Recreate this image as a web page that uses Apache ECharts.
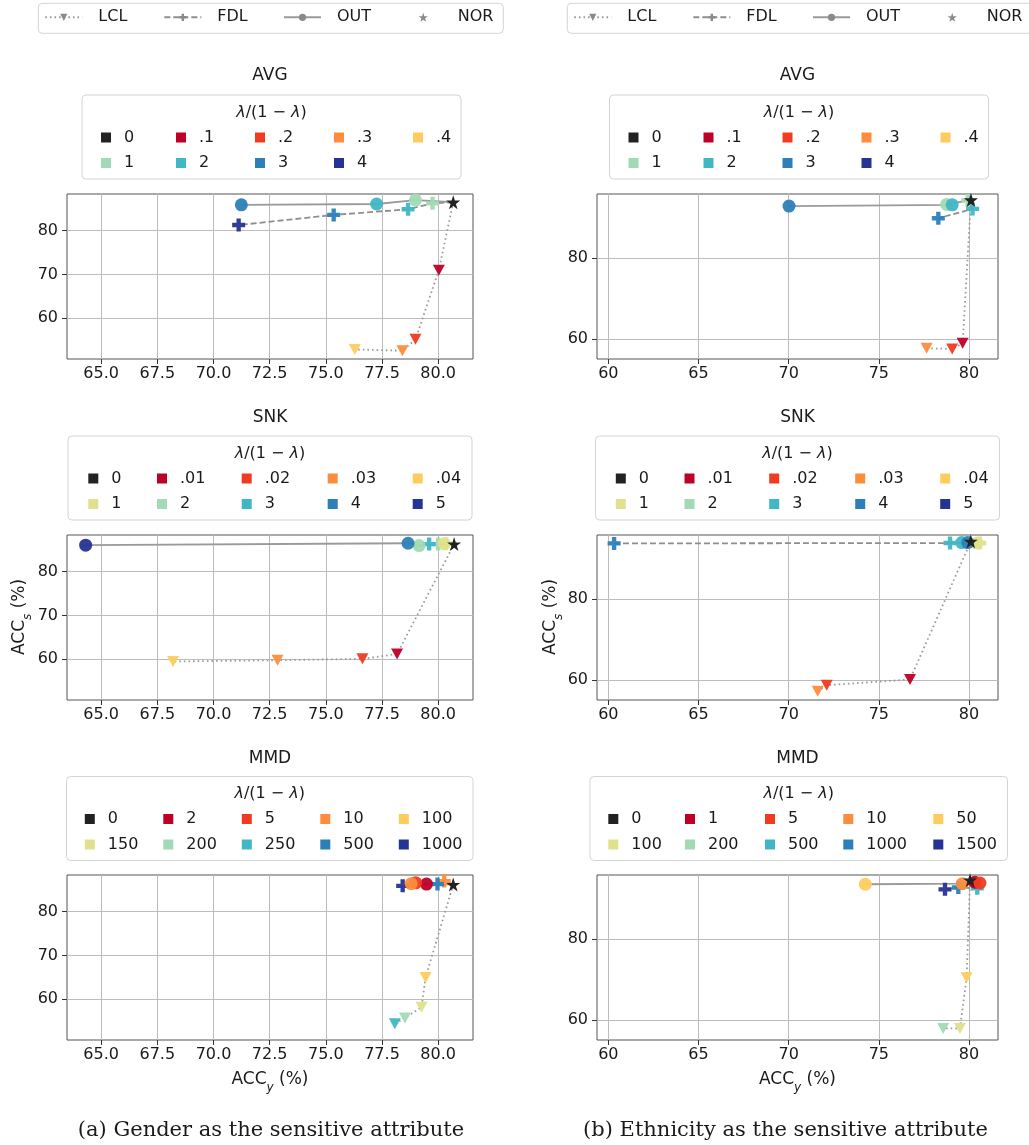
<!DOCTYPE html>
<html><head><meta charset="utf-8">
<script src="https://cdn.jsdelivr.net/npm/echarts@6/dist/echarts.min.js"></script>
<style>html,body{margin:0;padding:0;background:#fff}#c{width:1029px;height:1145px}</style>
</head><body><div id="c"></div>
<script>
// ===================== DATA =====================
const methodNames = ['LCL', 'FDL', 'OUT', 'NOR'];
const lamAVG  = ['0', '.1', '.2', '.3', '.4', '1', '2', '3', '4'];
const lamSNK  = ['0', '.01', '.02', '.03', '.04', '1', '2', '3', '4', '5'];
const lamMMDg = ['0', '2', '5', '10', '100', '150', '200', '250', '500', '1000'];
const lamMMDe = ['0', '1', '5', '10', '50', '100', '200', '500', '1000', '1500'];

const xTicksGender = [65, 67.5, 70, 72.5, 75, 77.5, 80];
const yTicksGender = [60, 70, 80];
const xTicksEth = [60, 65, 70, 75, 80];
const yTicksEth = [60, 80];

// each point: [lambda/(1-lambda), ACC_y, ACC_s]
// (a) Gender
const gAVG_NOR = [80.67, 86.5];
const gAVG_LCL = [['.1', 80.03, 71.0], ['.2', 78.99, 55.2], ['.3', 78.41, 52.6], ['.4', 76.29, 52.9]];
const gAVG_FDL = [['1', 79.75, 86.25], ['2', 78.66, 84.9], ['3', 75.35, 83.6], ['4', 71.12, 81.3]];
const gAVG_OUT = [['1', 78.99, 87.0], ['2', 77.26, 86.1], ['3', 71.24, 85.9]];

const gSNK_NOR = [80.71, 86.3];
const gSNK_LCL = [['.01', 78.17, 61.2], ['.02', 76.63, 60.1], ['.03', 72.85, 59.8], ['.04', 68.2, 59.5]];
const gSNK_FDL = [['1', 80.35, 86.4], ['2', 80.0, 86.3], ['3', 79.6, 86.3]];
const gSNK_OUT = [['1', 80.27, 86.4], ['2', 79.15, 85.96], ['4', 78.66, 86.5], ['5', 64.31, 86.05]];

const gMMD_NOR = [80.67, 86.2];
const gMMD_LCL = [['100', 79.44, 65.0], ['150', 79.26, 58.2], ['200', 78.52, 55.75], ['250', 78.07, 54.4]];
const gMMD_FDL = [['10', 80.27, 87.0], ['500', 79.97, 86.3], ['1000', 78.42, 85.9]];
const gMMD_OUT = [['2', 79.48, 86.3], ['5', 79.0, 86.6], ['10', 78.8, 86.4]];

// (b) Ethnicity
const eAVG_NOR = [80.11, 94.4];
const eAVG_LCL = [['.1', 79.65, 59.0], ['.2', 79.07, 57.6], ['.3', 77.65, 57.8]];
const eAVG_FDL = [['1', 79.93, 94.3], ['2', 80.2, 92.2], ['3', 78.3, 89.9]];
const eAVG_OUT = [['1', 78.76, 93.3], ['2', 79.07, 93.2], ['3', 70.02, 92.9]];

const eSNK_NOR = [80.1, 94.3];
const eSNK_LCL = [['.01', 76.73, 60.2], ['.02', 72.11, 58.8], ['.03', 71.61, 57.3]];
const eSNK_FDL = [['1', 80.6, 93.9], ['3', 78.95, 93.9], ['4', 60.32, 93.8]];
const eSNK_OUT = [['1', 80.45, 93.9], ['3', 79.6, 94.0], ['4', 79.93, 94.0]];

const eMMD_NOR = [80.06, 94.6];
const eMMD_LCL = [['50', 79.87, 70.5], ['100', 79.5, 58.0], ['200', 78.57, 58.0]];
const eMMD_FDL = [['500', 80.46, 92.6], ['1000', 79.41, 92.8], ['1500', 78.67, 92.35]];
const eMMD_OUT = [['1', 80.33, 94.1], ['5', 80.61, 93.9], ['10', 79.63, 93.75], ['50', 74.25, 93.6]];

// ===================== STYLE / LAYOUT =====================
const PAL = ['#222222', '#bd0026', '#f03b20', '#fd8d3c', '#fecc5c', '#dfe18c', '#a1dab4', '#41b6c4', '#2c7fb8', '#253494'];
const FONT = 'DejaVu Sans';
const TXT = '#1a1a1a';
const STAR = 'path://M50,0L61.2,34.5L97.6,34.5L68.2,55.9L79.4,90.5L50,69.1L20.6,90.5L31.8,55.9L2.4,34.5L38.8,34.5Z';
const PLUS = 'path://M1,0H2V1H3V2H2V3H1V2H0V1H1Z';

const panels = [
  {key: 'gA', title: 'AVG', grid: {left: 67, top: 194, width: 406, height: 165}, xr: [63.48, 81.55], yr: [50.71, 88.38],
   xt: xTicksGender, yt: yTicksGender, dec: 1, lam: lamAVG, cmap: [0, 1, 2, 3, 4, 6, 7, 8, 9],
   nor: gAVG_NOR, lcl: gAVG_LCL, fdl: gAVG_FDL, out: gAVG_OUT,
   leg: {sq: [106, 181, 260, 339, 418], bx: [82, 461], by: 95}, ty: 76},
  {key: 'eA', title: 'AVG', grid: {left: 597, top: 194, width: 401, height: 165}, xr: [59.37, 81.61], yr: [55.14, 95.88],
   xt: xTicksEth, yt: yTicksEth, dec: 0, lam: lamAVG, cmap: [0, 1, 2, 3, 4, 6, 7, 8, 9],
   nor: eAVG_NOR, lcl: eAVG_LCL, fdl: eAVG_FDL, out: eAVG_OUT,
   leg: {sq: [633.5, 708.5, 787.5, 866.5, 945.5], bx: [609.5, 988.5], by: 95}, ty: 76},
  {key: 'gS', title: 'SNK', grid: {left: 67, top: 535, width: 406, height: 165}, xr: [63.48, 81.55], yr: [50.71, 88.38],
   xt: xTicksGender, yt: yTicksGender, dec: 1, lam: lamSNK, cmap: [0, 1, 2, 3, 4, 5, 6, 7, 8, 9],
   nor: gSNK_NOR, lcl: gSNK_LCL, fdl: gSNK_FDL, out: gSNK_OUT,
   leg: {sq: [93.3, 162, 246.7, 332.7, 417.7], bx: [68, 472], by: 436}, ty: 417.3},
  {key: 'eS', title: 'SNK', grid: {left: 597, top: 535, width: 401, height: 165}, xr: [59.37, 81.61], yr: [55.14, 95.88],
   xt: xTicksEth, yt: yTicksEth, dec: 0, lam: lamSNK, cmap: [0, 1, 2, 3, 4, 5, 6, 7, 8, 9],
   nor: eSNK_NOR, lcl: eSNK_LCL, fdl: eSNK_FDL, out: eSNK_OUT,
   leg: {sq: [620.8, 689.5, 774.2, 860.2, 945.2], bx: [595.5, 999.5], by: 436}, ty: 417.3},
  {key: 'gM', title: 'MMD', grid: {left: 67, top: 875, width: 406, height: 165}, xr: [63.48, 81.55], yr: [50.71, 88.38],
   xt: xTicksGender, yt: yTicksGender, dec: 1, lam: lamMMDg, cmap: [0, 1, 2, 3, 4, 5, 6, 7, 8, 9],
   nor: gMMD_NOR, lcl: gMMD_LCL, fdl: gMMD_FDL, out: gMMD_OUT,
   leg: {sq: [89.8, 168.3, 246.8, 325.3, 403.8], bx: [66.5, 473], by: 776.5}, ty: 758.3},
  {key: 'eM', title: 'MMD', grid: {left: 597, top: 875, width: 401, height: 165}, xr: [59.37, 81.61], yr: [55.14, 95.88],
   xt: xTicksEth, yt: yTicksEth, dec: 0, lam: lamMMDe, cmap: [0, 1, 2, 3, 4, 5, 6, 7, 8, 9],
   nor: eMMD_NOR, lcl: eMMD_LCL, fdl: eMMD_FDL, out: eMMD_OUT,
   leg: {sq: [613.3, 690, 770, 848.3, 938.3], bx: [590, 1007.5], by: 776.5}, ty: 758.3}
];

const methodStyle = {
  LCL: {symbol: 'triangle', symbolRotate: 180, symbolSize: [12, 11], lineStyle: {color: '#9a9a9a', width: 1.8, type: [1.6, 3]}},
  FDL: {symbol: PLUS, symbolRotate: 0, symbolSize: 13, lineStyle: {color: '#8e8e8e', width: 1.8, type: [6, 3]}},
  OUT: {symbol: 'circle', symbolRotate: 0, symbolSize: 13, lineStyle: {color: '#9a9a9a', width: 1.8, type: 'solid'}}
};

// ===================== BUILD =====================
const grids = [], xAxes = [], yAxes = [], series = [], legends = [], graphics = [];

function colorOf(P, lab) { return PAL[P.cmap[P.lam.indexOf(lab)]]; }

panels.forEach((P, i) => {
  grids.push(Object.assign({show: true, borderColor: '#555', borderWidth: 1, backgroundColor: 'transparent'}, P.grid));
  const tickCommon = {show: true, inside: false, length: 5, lineStyle: {color: '#333', width: 1}};
  xAxes.push({
    type: 'value', gridIndex: i, min: P.xr[0], max: P.xr[1],
    axisLine: {show: false, onZero: false},
    axisTick: Object.assign({customValues: P.xt}, tickCommon),
    splitLine: {show: true, lineStyle: {color: '#bcbcbc', width: 1}},
    axisLabel: {customValues: P.xt, fontSize: 16, fontFamily: FONT, color: TXT, margin: 7,
      formatter: v => Number(v).toFixed(P.dec)}
  });
  yAxes.push({
    type: 'value', gridIndex: i, min: P.yr[0], max: P.yr[1],
    axisLine: {show: false, onZero: false},
    axisTick: Object.assign({customValues: P.yt}, tickCommon),
    splitLine: {show: true, lineStyle: {color: '#bcbcbc', width: 1}},
    axisLabel: {customValues: P.yt, fontSize: 16, fontFamily: FONT, color: TXT, margin: 9,
      formatter: v => String(Math.round(v))}
  });

  ['LCL', 'FDL', 'OUT'].forEach(m => {
    const pts = P[m.toLowerCase()];
    const st = methodStyle[m];
    series.push({
      type: 'line', name: P.key + ' ' + m, xAxisIndex: i, yAxisIndex: i,
      data: [{value: P.nor.slice(), symbol: 'none'}].concat(pts.map(p => ({value: [p[1], p[2]], itemStyle: {color: colorOf(P, p[0])}}))),
      symbol: st.symbol, symbolRotate: st.symbolRotate, symbolSize: st.symbolSize, showSymbol: true,
      lineStyle: st.lineStyle, itemStyle: {opacity: 0.95}, animation: false, silent: true, z: 2
    });
  });
  series.push({
    type: 'scatter', name: P.key + ' NOR', xAxisIndex: i, yAxisIndex: i, data: [P.nor.slice()],
    symbol: STAR, symbolSize: 14, itemStyle: {color: '#222222', opacity: 1}, animation: false, silent: true, z: 6
  });

  // legend dummies for the lambda colour legend
  P.lam.forEach(lab => {
    series.push({type: 'scatter', name: P.key + '|' + lab, xAxisIndex: i, yAxisIndex: i, data: [],
      itemStyle: {color: colorOf(P, lab), opacity: 1}});
  });
  const sq = P.leg.sq;
  const widths = sq.map((s, c) => c < 4 ? sq[c + 1] - sq[c] - 23 : 60);
  const rows = [P.lam.slice(0, 5), P.lam.slice(5)];
  rows.forEach((labs, r) => {
    const cy = P.leg.by + (r === 0 ? 42.5 : 68);
    legends.push({
      left: sq[0] - 5, top: cy - 10, padding: 0, orient: 'horizontal',
      itemWidth: 10, itemHeight: 10, itemGap: 0, icon: 'rect', selectedMode: false,
      formatter: n => n.split('|')[1],
      itemStyle: {opacity: 1},
      textStyle: {fontSize: 16, fontFamily: FONT, color: TXT, lineHeight: 20, padding: [0, 0, 0, 8]},
      data: labs.map((l, c) => ({name: P.key + '|' + l, textStyle: {width: widths[c]}}))
    });
  });
  // legend frame and title
  const bx = P.leg.bx, by = P.leg.by;
  graphics.push({type: 'rect', shape: {x: bx[0], y: by, width: bx[1] - bx[0], height: 84, r: 4},
    style: {fill: '#fff', stroke: '#d4d4d4', lineWidth: 1}, z: 0, silent: true});
  graphics.push({type: 'text', x: (bx[0] + bx[1]) / 2, y: by + 17.5, z: 1, silent: true,
    style: {text: '{i|λ}/(1 − {i|λ})', fontSize: 16, fontFamily: FONT, fill: TXT, align: 'center', verticalAlign: 'middle',
      rich: {i: {fontStyle: 'italic', fontSize: 16, fontFamily: FONT, fill: TXT}}}});
  // subplot title
  graphics.push({type: 'text', x: P.grid.left + P.grid.width / 2, y: P.ty, z: 1, silent: true,
    style: {text: P.title, fontSize: 17, fontFamily: FONT, fill: TXT, align: 'center', verticalAlign: 'middle'}});
});

// top legend dummies (shared LCL / FDL / OUT / NOR)
['LCL', 'FDL', 'OUT'].forEach(m => {
  const st = methodStyle[m];
  series.push({type: 'line', name: m, xAxisIndex: 0, yAxisIndex: 0, data: [],
    symbol: st.symbol, symbolRotate: st.symbolRotate, itemStyle: {color: '#8a8a8a', opacity: 1},
    lineStyle: Object.assign({}, st.lineStyle, {width: 1.5})});
});
series.push({type: 'scatter', name: 'NOR', xAxisIndex: 0, yAxisIndex: 0, data: [], symbol: STAR, itemStyle: {color: '#8a8a8a', opacity: 1}});

[0, 529].forEach(dx => {
  legends.push({
    left: 44.3 + dx, top: 7.3, padding: 0, orient: 'horizontal', itemWidth: 37, itemHeight: 9, itemGap: 0, selectedMode: false,
    textStyle: {fontSize: 16, fontFamily: FONT, color: TXT, lineHeight: 20, padding: [0, 0, 0, 11]},
    data: methodNames.map((m, c) => ({name: m, textStyle: {width: [65, 65.7, 81.5, 50][c]}}))
  });
  graphics.push({type: 'rect', shape: {x: 38.3 + dx, y: 3.3, width: 465, height: 30, r: 4},
    style: {fill: '#fff', stroke: '#d4d4d4', lineWidth: 1}, z: 0, silent: true});
});

// axis names
const accRich = {
  a: {fontSize: 17, fontFamily: FONT, fill: TXT, lineHeight: 22, verticalAlign: 'top'},
  b: {fontSize: 12, fontFamily: FONT, fontStyle: 'italic', fill: TXT, lineHeight: 12, padding: [11, 0, 0, 0], verticalAlign: 'top'}
};
[[270, 1082], [797.5, 1082]].forEach(p => {
  graphics.push({type: 'text', x: p[0], y: p[1], silent: true,
    style: {text: '{a|ACC}{b|y}{a| (%)}', align: 'center', verticalAlign: 'middle', rich: accRich}});
});
[[22, 617], [553, 617]].forEach(p => {
  graphics.push({type: 'text', x: p[0], y: p[1], rotation: Math.PI / 2, silent: true,
    style: {text: '{a|ACC}{b|s}{a| (%)}', align: 'center', verticalAlign: 'middle', rich: accRich}});
});
// captions
[[271, 1131, '(a) Gender as the sensitive attribute'], [785.5, 1131, '(b) Ethnicity as the sensitive attribute']].forEach(c => {
  graphics.push({type: 'text', x: c[0], y: c[1], silent: true,
    style: {text: c[2], fontSize: 21, fontFamily: 'DejaVu Serif', fill: TXT, align: 'center', verticalAlign: 'middle'}});
});

const chart = echarts.init(document.getElementById('c'), null, {renderer: 'canvas', width: 1029, height: 1145});
chart.setOption({
  animation: false,
  backgroundColor: '#ffffff',
  textStyle: {fontFamily: FONT},
  grid: grids, xAxis: xAxes, yAxis: yAxes,
  legend: legends, series: series,
  graphic: {elements: graphics}
});
</script></body></html>
